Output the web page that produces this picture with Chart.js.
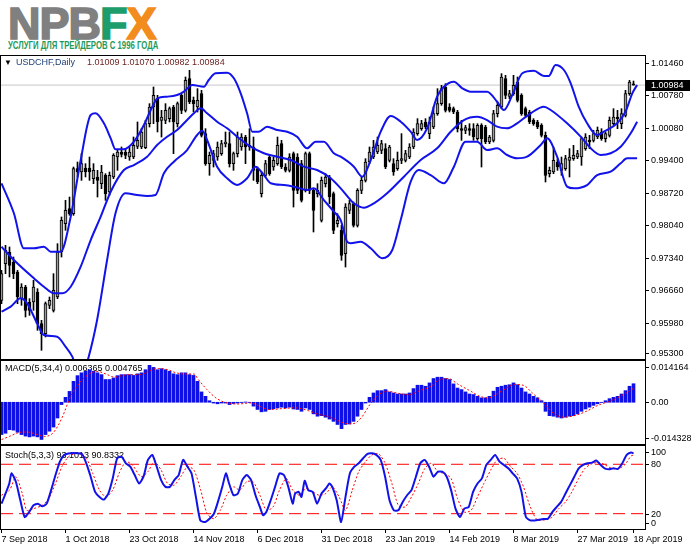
<!DOCTYPE html>
<html>
<head>
<meta charset="utf-8">
<title>USDCHF Daily</title>
<script src="https://cdn.jsdelivr.net/npm/chart.js@4.4.1/dist/chart.umd.min.js"></script>
<style>
  html, body { margin: 0; padding: 0; background: #fff; }
  body { position: relative; width: 691px; height: 549px; overflow: hidden; font-family: "Liberation Sans", Arial, sans-serif; }
  canvas { position: absolute; left: 0; }
  #logo { position: absolute; left: 8px; top: 2px; font-weight: bold; font-size: 45px; line-height: 44px; letter-spacing: -1px; white-space: nowrap; transform-origin: 0 0; }
  #logo span { -webkit-text-stroke: 1.6px currentColor; }
  #tagline { position: absolute; left: 8px; top: 40px; font-weight: bold; font-size: 10px; line-height: 11px; color: #1f9a5c; white-space: nowrap; transform-origin: 0 0; }
</style>
</head>
<body>
<div id="logo"><span style="color:#808080">NPB</span><span style="color:#1d9d6c">F</span><span style="color:#f28c1c">X</span></div>
<div id="tagline">УСЛУГИ ДЛЯ ТРЕЙДЕРОВ С 1996 ГОДА</div>
<canvas id="priceChart" width="691" height="305" style="top:55px"></canvas>
<canvas id="macdChart" width="691" height="85" style="top:360px"></canvas>
<canvas id="stochChart" width="691" height="104" style="top:445px"></canvas>
<script>
// USDCHF daily, 7 Sep 2018 .. 18 Apr 2019 (bar index 0..158)
const opens = [0.96449,0.97222,0.97468,0.97257,0.97046,0.96484,0.96730,0.96414,0.96414,0.96625,
  0.95958,0.95747,0.96344,0.96238,0.96519,0.97468,0.98064,0.98380,0.98275,0.99223,
  0.99153,0.99237,0.99237,0.99013,0.99048,0.98907,0.99083,0.98732,0.99048,0.99469,
  0.99574,0.99574,0.99469,0.99469,0.99694,0.99680,0.99666,1.00171,1.00523,1.00698,
  1.00242,1.00242,1.00277,1.00523,1.00171,1.00768,1.00452,1.01120,1.00663,1.00523,
  1.00803,0.99961,0.99329,0.99399,0.99469,0.99539,0.99750,0.99750,0.99329,0.99539,
  0.99680,0.99890,0.99715,0.99680,0.99223,0.98696,0.99083,0.99469,0.99258,0.99329,
  0.99750,0.99258,0.99188,0.99539,0.99469,0.99329,0.98767,0.99539,0.98767,0.98696,
  0.98134,0.98907,0.99048,0.98696,0.98064,0.97924,0.97432,0.98345,0.98486,0.98029,
  0.98767,0.98977,0.99364,0.99469,0.99574,0.99610,0.99645,0.99399,0.99329,0.99223,
  0.99399,0.99399,0.99469,0.99680,0.99961,1.00066,1.00207,0.99961,1.00101,1.00382,
  1.00593,1.00944,1.00523,1.00487,1.00417,1.00066,1.00031,1.00066,1.00066,0.99855,
  1.00136,1.00101,0.99785,0.99820,1.00382,1.00523,1.01120,1.00747,1.00803,1.01049,
  1.00768,1.00487,1.00417,1.00242,1.00207,1.00136,0.99926,0.99118,0.99153,0.99364,
  0.99188,0.99223,0.99399,0.99434,0.99469,0.99469,0.99645,0.99820,0.99820,0.99890,
  0.99996,0.99855,0.99926,1.00171,1.00312,1.00171,1.00347,1.00803,1.01009];
const highs = [0.97081,0.97608,0.97573,0.97362,0.97081,0.96800,0.96765,0.96484,0.96870,0.96695,
  0.96028,0.96414,0.96519,0.97011,0.97643,0.98205,0.98556,0.98626,0.99258,0.99364,
  0.99539,0.99329,0.99469,0.99329,0.99188,0.99293,0.99118,0.99153,0.99539,0.99610,
  0.99680,0.99645,0.99680,0.99890,1.00207,1.00066,1.00242,1.00593,1.00944,1.00768,
  1.00452,1.00593,1.00523,1.00558,1.00628,1.00803,1.01155,1.01295,1.00733,1.00909,
  1.00874,1.00066,0.99574,0.99610,0.99785,0.99820,0.99996,0.99996,0.99574,0.99996,
  0.99961,0.99926,1.00066,0.99890,0.99258,0.99153,0.99399,0.99504,0.99469,0.99890,
  0.99820,0.99329,0.99539,0.99574,0.99539,0.99399,0.99574,0.99574,0.98802,0.98907,
  0.99048,0.99118,0.99083,0.98732,0.98275,0.98029,0.98486,0.98556,0.98521,0.98802,
  0.99048,0.99434,0.99680,0.99820,0.99890,0.99820,0.99750,0.99715,0.99434,0.99574,
  0.99961,0.99610,0.99750,1.00066,1.00277,1.00242,1.00277,1.00312,1.00523,1.00909,
  1.00979,1.01014,1.00593,1.00523,1.00452,1.00242,1.00136,1.00171,1.00171,1.00171,
  1.00171,1.00136,0.99926,1.00452,1.00628,1.01225,1.01190,1.00874,1.01190,1.01155,
  1.00803,1.00523,1.00452,1.00277,1.00242,1.00171,0.99996,0.99258,0.99680,0.99434,
  0.99469,0.99504,0.99645,0.99715,0.99610,0.99890,0.99961,0.99926,1.00031,1.00101,
  1.00066,0.99996,1.00312,1.00487,1.00452,1.00487,1.00874,1.01084,1.01070];
const lows = [0.96379,0.97011,0.96941,0.96906,0.96379,0.96344,0.96098,0.96133,0.96238,0.95817,
  0.95396,0.95677,0.96274,0.96203,0.96484,0.97362,0.97924,0.98240,0.98240,0.99048,
  0.98977,0.99048,0.98977,0.98907,0.98626,0.98802,0.98556,0.98661,0.99013,0.99188,
  0.99469,0.99434,0.99399,0.99434,0.99645,0.99645,0.99645,1.00101,1.00171,0.99996,
  0.99890,1.00171,1.00207,0.99539,1.00101,1.00382,1.00417,1.00593,1.00417,1.00417,
  0.99890,0.99293,0.99083,0.99258,0.99399,0.99504,0.99680,0.99258,0.99188,0.99469,
  0.99610,0.99329,0.99610,0.98977,0.98907,0.98626,0.99048,0.99083,0.99188,0.99293,
  0.99223,0.99153,0.99153,0.98415,0.98696,0.98521,0.98732,0.98696,0.97889,0.98626,
  0.98099,0.98837,0.98486,0.97854,0.97994,0.97292,0.97151,0.98275,0.97994,0.97994,
  0.98696,0.98942,0.99329,0.99434,0.99539,0.99539,0.99223,0.99364,0.99083,0.99188,
  0.99329,0.99364,0.99434,0.99645,0.99926,1.00031,1.00066,0.99855,1.00066,1.00347,
  1.00558,1.00417,1.00417,1.00382,0.99996,0.99820,0.99961,0.99926,0.99820,0.99820,
  0.99258,0.99750,0.99750,0.99785,1.00312,1.00487,1.00698,1.00698,1.00768,1.00628,
  1.00347,1.00312,1.00171,1.00136,1.00066,0.99890,0.98942,0.99048,0.99118,0.99188,
  0.99083,0.99188,0.99048,0.99399,0.99434,0.99293,0.99610,0.99645,0.99785,0.99855,
  0.99820,0.99785,0.99890,1.00136,1.00066,1.00066,1.00312,1.00768,1.00982];
const closes = [0.97011,0.97503,0.97187,0.97011,0.96519,0.96730,0.96238,0.96238,0.96730,0.95958,
  0.95747,0.96379,0.96449,0.96660,0.97468,0.98134,0.98345,0.98275,0.99223,0.99153,
  0.99329,0.99153,0.99153,0.99188,0.98977,0.99153,0.98696,0.99083,0.99504,0.99574,
  0.99525,0.99504,0.99574,0.99715,0.99820,0.99996,1.00171,1.00523,1.00768,1.00207,
  1.00312,1.00452,1.00487,1.00207,1.00593,1.00452,1.01084,1.00628,1.00593,1.00663,
  0.99926,0.99329,0.99504,0.99539,0.99680,0.99750,0.99785,0.99329,0.99539,0.99890,
  0.99890,0.99680,0.99680,0.99188,0.98942,0.99083,0.99329,0.99118,0.99399,0.99715,
  0.99258,0.99188,0.99469,0.98767,0.98767,0.98556,0.99539,0.98767,0.98345,0.98767,
  0.98977,0.99048,0.98626,0.97924,0.98134,0.97397,0.98415,0.98486,0.98029,0.98767,
  0.98977,0.99364,0.99574,0.99680,0.99715,0.99750,0.99258,0.99680,0.99153,0.99399,
  0.99434,0.99539,0.99680,0.99996,1.00171,1.00171,1.00101,1.00207,1.00382,1.00593,
  1.00909,1.00452,1.00452,1.00417,1.00066,1.00031,1.00087,1.00031,0.99890,1.00136,
  0.99855,0.99785,0.99890,1.00382,1.00558,1.01155,1.00768,1.00803,1.00979,1.00663,
  1.00382,1.00347,1.00207,1.00171,1.00101,0.99926,0.99083,0.99188,0.99399,0.99258,
  0.99329,0.99434,0.99469,0.99504,0.99539,0.99855,0.99890,0.99785,0.99961,1.00031,
  0.99855,0.99961,1.00242,1.00312,1.00277,1.00382,1.00803,1.01049,1.00984];

// Bollinger bands as [bar index, price]
const bbUpper = [[0,0.98915],[3.1,0.98283],[5.6,0.97545],[8.1,0.97545],[10.6,0.97579],[12.3,0.97474],[14.8,0.97474],[17.3,0.98211],[19.8,0.99405],[22.3,1.00354],[23.5,1.00390],[25.6,1.00179],[27.3,0.99863],[28.5,0.99631],[30.6,0.99631],[33.1,0.99791],[35.6,1.00143],[37.7,1.00529],[39,1.00706],[41.4,1.00740],[43.9,1.00775],[45.6,1.00845],[47.7,1.00986],[50.6,1.00950],[51.8,1.01091],[53.5,1.01233],[56.4,1.01245],[58.1,1.01127],[59.8,1.00811],[61.4,1.00390],[62.7,1.00002],[64.3,1.00002],[66.4,1.00108],[68.9,1.00038],[71.4,1.00002],[73.9,0.99897],[76.4,0.99652],[78.5,0.99791],[80.6,0.99791],[83.1,0.99547],[84.8,0.99475],[88.1,0.99265],[90.2,0.99054],[92.3,0.99405],[94.8,1.00002],[97.3,1.00333],[99.8,1.00213],[102.3,1.00002],[103.9,0.99827],[106.4,1.00074],[108.9,1.00740],[110.6,1.00950],[113.1,1.01056],[115.2,1.00916],[117.3,1.00845],[121.4,1.00845],[123.9,1.00634],[125.6,1.00459],[127.7,1.00775],[130.2,1.01233],[133.1,1.01287],[135.6,1.01176],[136.8,1.01176],[138.5,1.01407],[140.6,1.01302],[142.3,1.01022],[144.3,1.00529],[146.4,1.00179],[148.9,0.99932],[150.6,1.00002],[153.9,1.00179],[156,1.00423],[157.7,1.00811],[158.9,1.00986]];
const bbMiddle = [[0,0.97579],[3.1,0.97298],[8.1,0.96913],[10.6,0.96736],[13.1,0.96597],[15.2,0.96597],[17.3,0.96736],[19.8,0.97158],[22.3,0.97720],[24.8,0.98211],[27.3,0.98738],[30.6,0.99195],[33.1,0.99300],[36.4,0.99475],[38.9,0.99722],[41.4,0.99897],[43.9,1.00038],[46.4,1.00248],[48.1,1.00390],[49.8,1.00495],[51.4,1.00390],[53.9,1.00213],[56.4,1.00074],[58.9,0.99897],[62.3,0.99686],[65.6,0.99547],[68.9,0.99475],[72.3,0.99405],[75.6,0.99265],[78.9,0.99195],[82.3,0.99020],[84.8,0.98809],[88.1,0.98493],[90.6,0.98401],[93.1,0.98493],[96.4,0.98704],[100.6,0.99054],[104.8,0.99405],[108.9,0.99652],[112.3,1.00002],[115.6,1.00248],[118.9,1.00318],[121.4,1.00248],[123.9,1.00108],[126.4,1.00074],[128.9,1.00179],[132.3,1.00390],[135.6,1.00529],[137.3,1.00459],[141.4,1.00179],[144.8,0.99897],[147.3,0.99652],[149.8,0.99511],[152.3,0.99547],[154.8,0.99686],[157.3,0.99968],[158.9,1.00213]];
const bbLower = [[0,0.96209],[2.3,0.96315],[4.8,0.96492],[6.4,0.96386],[8.9,0.95965],[10.6,0.95719],[13.9,0.95683],[16,0.95472],[17.7,0.95262],[18.8,0.95023],[20.8,0.95023],[21.8,0.95262],[23.9,0.96035],[26.4,0.97298],[28.5,0.98283],[31,0.98704],[33.9,0.98668],[36.4,0.98647],[38.5,0.98668],[40.6,0.99126],[43.1,0.99370],[46.4,0.99616],[48.9,0.99932],[50.2,1.00023],[51.4,0.99827],[53.9,0.99265],[56.4,0.99020],[58.9,0.98879],[61.4,0.99020],[63.5,0.99265],[65.6,0.99089],[67.3,0.98915],[70.6,0.98879],[73.1,0.98844],[76.4,0.98773],[78.1,0.98809],[80.6,0.98562],[83.1,0.98316],[84.8,0.98141],[86.4,0.97684],[87.3,0.97651],[89.8,0.97684],[92.3,0.97545],[95.2,0.97334],[97.7,0.97509],[99.8,0.98141],[102.3,0.98948],[104.3,0.99195],[107.3,0.99089],[110.6,0.98915],[113.1,0.99265],[116,0.99791],[118.9,0.99791],[121.4,0.99616],[123.9,0.99652],[126.4,0.99511],[128.9,0.99441],[131.4,0.99475],[134.8,0.99722],[136.4,0.99863],[138.9,0.99475],[141.4,0.98844],[143.1,0.98809],[146.4,0.98878],[148.9,0.99089],[152.3,0.99160],[154.8,0.99337],[156.4,0.99441],[158.9,0.99441]];

// MACD(5,34,4)
const macdHist = [-0.01109,-0.01064,-0.00940,-0.00958,-0.01029,-0.01109,-0.01162,-0.01189,-0.01162,-0.01189,
  -0.01277,-0.01109,-0.00993,-0.00852,-0.00541,-0.00080,0.00169,0.00373,0.00718,0.00914,
  0.01011,0.01064,0.01118,0.01064,0.01011,0.00949,0.00781,0.00781,0.00834,0.00914,
  0.00949,0.00949,0.00949,0.00922,0.00976,0.01011,0.01118,0.01268,0.01197,0.01118,
  0.01153,0.01118,0.01064,0.00976,0.00949,0.01011,0.01011,0.00949,0.00922,0.00718,
  0.00355,0.00204,0.00053,-0.00027,-0.00053,-0.00027,-0.00027,-0.00080,-0.00044,-0.00027,
  -0.00009,0.00009,-0.00009,-0.00133,-0.00248,-0.00328,-0.00310,-0.00248,-0.00222,-0.00195,
  -0.00169,-0.00195,-0.00169,-0.00231,-0.00248,-0.00310,-0.00195,-0.00248,-0.00399,-0.00479,
  -0.00461,-0.00514,-0.00577,-0.00656,-0.00763,-0.00905,-0.00763,-0.00745,-0.00656,-0.00479,
  -0.00248,-0.00027,0.00169,0.00319,0.00399,0.00399,0.00435,0.00355,0.00319,0.00284,
  0.00284,0.00284,0.00319,0.00470,0.00585,0.00585,0.00550,0.00665,0.00816,0.00860,
  0.00860,0.00816,0.00781,0.00630,0.00488,0.00435,0.00355,0.00284,0.00266,0.00204,
  0.00151,0.00151,0.00204,0.00381,0.00514,0.00550,0.00585,0.00603,0.00665,0.00603,
  0.00488,0.00355,0.00284,0.00204,0.00151,0.00053,-0.00310,-0.00461,-0.00479,-0.00514,
  -0.00541,-0.00514,-0.00479,-0.00461,-0.00399,-0.00310,-0.00231,-0.00169,-0.00106,-0.00053,
  -0.00009,0.00053,0.00124,0.00169,0.00204,0.00284,0.00399,0.00550,0.006365];
const macdSignal = [[0,-0.0128],[2,-0.0117],[4.1,-0.0105],[6.3,-0.0102],[8.5,-0.0109],[10.7,-0.0117],[12.9,-0.0105],[15.1,-0.0054],[17.3,0.0021],[19.5,0.0066],[21.7,0.0095],[23.9,0.0106],[26.1,0.0097],[28.3,0.0086],[30.5,0.0093],[32.7,0.0095],[34.9,0.0095],[37.1,0.0109],[39.3,0.0116],[41.5,0.0112],[43.7,0.0101],[45.9,0.0097],[48.1,0.0097],[49.2,0.0078],[51.4,0.0043],[53.6,0.0015],[55.8,0],[59.1,-0.0006],[62.4,-0.0002],[64.6,-0.0014],[66.8,-0.0025],[70.1,-0.0022],[73.4,-0.0019],[76.7,-0.0029],[78.9,-0.0040],[82.2,-0.0051],[85.5,-0.0071],[87.7,-0.0074],[89.9,-0.0054],[92.1,-0.0008],[94.3,0.0026],[96.5,0.0038],[98.7,0.0032],[102,0.0026],[104.2,0.0038],[107.4,0.0055],[109.6,0.0078],[111.8,0.0081],[114,0.0063],[117.3,0.0038],[119.5,0.0021],[121.7,0.0015],[125,0.0038],[128.3,0.0061],[130.5,0.0058],[132.7,0.0032],[135.5,-0.0002],[138.2,-0.0040],[140.4,-0.0051],[142.6,-0.0048],[145.9,-0.0033],[149.2,-0.0010],[152.5,0.0006],[155.8,0.0029],[158,0.004765]];

// Stochastic(5,3,3)
const stochMain = [[0,32.2],[0.85,42.4],[1.95,56.7],[2.5,69],[3.6,58.8],[4.7,36.3],[5.8,15.9],[6.9,22],[8,30.2],[9.1,32.2],[10.2,29],[11.3,32.2],[12.4,48.6],[13.5,66.9],[14.6,83.2],[15.7,91.4],[17.3,93.4],[19,93.4],[20.1,92.6],[21.2,81.2],[22.3,64.9],[23.4,46.5],[24.5,40.4],[25.6,37.1],[26.7,44.5],[27.8,62.8],[28.9,87.3],[30,89.4],[31.1,81.2],[32.2,77.1],[33.3,66.9],[34.4,56.7],[35.5,64.9],[36.6,85.3],[37.7,91.4],[38.8,77.1],[39.9,60.8],[41,52.6],[42.1,52.6],[43.2,60.8],[44.3,66.9],[45.4,85.3],[46.5,77.1],[47.5,69],[48.6,40.4],[49.7,11.8],[50.9,9.8],[52,13.9],[53.1,20],[54.1,34.3],[55.2,52.6],[56.1,69],[56.9,56.7],[58,42.4],[59.1,44.5],[60.2,60.8],[61.3,66.9],[62.4,60.8],[63.5,42.4],[64.6,28.2],[65.4,18],[66.2,22],[67.3,36.3],[68.4,52.6],[69.5,69],[70.6,66.9],[71.7,52.6],[72.8,32.2],[73.4,44.5],[74.3,46.5],[75,40.4],[75.8,60],[76.7,48.6],[77.8,46.5],[78.9,32.2],[80,44.5],[81.1,50.6],[82,56.7],[82.7,52.6],[83.8,36.3],[84.9,9.8],[86,40.4],[87.1,69],[88.2,77.1],[89.3,81.2],[90.4,87.3],[91.5,92.6],[92.6,93.4],[93.7,91.4],[94.8,85.3],[95.9,64.9],[97,36.3],[98.1,24.1],[99.2,24.1],[100.3,34.3],[101.4,42.4],[102.5,48.6],[103.6,64.9],[104.7,81.2],[105.8,85.3],[106.9,77.1],[108,64.9],[109.1,71],[110.2,71],[111.3,64.9],[112.4,48.6],[113.5,26.1],[114.6,15.9],[115.7,26.1],[116.8,28.2],[117.9,46.5],[119,56.7],[120.1,62.8],[121.2,79.2],[122.3,85.3],[123.4,91.4],[124.5,83.2],[125.6,79.2],[126.7,75.1],[127.8,69],[128.9,62.8],[130,46.5],[131.1,15.9],[132.2,11.8],[133.3,11.8],[134.4,12.7],[135.5,13.5],[136.6,13.9],[137.7,22],[138.8,28.2],[139.9,34.3],[141,44.5],[142.1,54.7],[143.2,64.9],[144.3,75.1],[145.4,79.2],[146.5,81.2],[147.6,82],[148.7,84.5],[149.8,79.2],[150.8,75.1],[151.9,73.9],[153,75.1],[154.1,74.3],[155.2,81.2],[156.3,91.4],[157.4,94.3],[158,93.1013]];
const stochSignal = [[0,42.4],[2,48.6],[3.6,64.9],[5.2,44.5],[6.3,24.1],[8,26.1],[10.2,30.2],[11.8,38.4],[13.5,56.7],[15.1,77.1],[16.8,89.4],[19,93.4],[21.2,87.3],[22.8,69],[24.5,48.6],[26.1,40.4],[27.8,48.6],[29.4,69],[31.1,83.2],[32.7,79.2],[34.9,64.9],[36.6,71],[38.2,83.2],[39.9,73],[41.5,56.7],[43.2,54.7],[44.8,64.9],[46.5,77.1],[48.1,73],[49.8,48.6],[51.4,20],[53.1,13.9],[54.7,24.1],[56.3,42.4],[58,52.6],[59.6,48.6],[61.3,58.8],[62.9,58.8],[64.6,42.4],[66.2,24.1],[67.9,28.2],[69.5,48.6],[71.2,62.8],[72.8,48.6],[74.5,42.4],[76.1,50.6],[77.8,46.5],[79.4,42.4],[81.1,44.5],[82.7,52.6],[84.4,40.4],[86,24.1],[87.7,48.6],[89.3,71],[91,83.2],[92.6,91.4],[94.3,92.6],[95.9,81.2],[97.6,56.7],[99.2,30.2],[100.9,28.2],[102.5,40.4],[104.2,56.7],[105.8,74.7],[107.4,81.2],[109.1,71],[110.7,69],[112.4,62.8],[114,38.4],[115.7,22],[117.4,24.1],[119,40.4],[120.6,56.7],[122.3,73],[123.9,85.3],[125.6,87.3],[127.3,77.1],[128.9,69],[130.5,52.6],[132.2,28.2],[133.9,12.7],[136.1,12.7],[137.7,15.9],[139.3,26.1],[141,34.3],[142.6,46.5],[144.3,62.8],[145.9,75.1],[147.6,80.6],[149.3,82.4],[150.9,79.2],[152.5,75.1],[154.1,74.3],[155.8,79.2],[157.4,90.2],[158,90.8332]];
const stochLevels = [80, 20];

// axis labels
const priceTicks = [1.01460, 1.00780, 1.00080, 0.99400, 0.98720, 0.98040, 0.97340, 0.96660, 0.95980, 0.95300];
const macdTicks = [0.014164, 0, -0.014328];
const macdTickLabels = ['0.014164', '0.00', '-0.014328'];
const stochTicks = [100, 80, 20, 0];
const dateTickIndex = [0, 16, 32, 48, 64, 80, 96, 112, 128, 144, 158];
const dateTickLabels = ['7 Sep 2018', '1 Oct 2018', '23 Oct 2018', '14 Nov 2018', '6 Dec 2018', '31 Dec 2018',
  '23 Jan 2019', '14 Feb 2019', '8 Mar 2019', '27 Mar 2019', '18 Apr 2019'];

const FONT = '"Liberation Sans", Arial, sans-serif';
Chart.defaults.font.family = FONT;
Chart.defaults.font.size = 9;

const X_MIN = -0.125, X_MAX = 160.875;
const lastClose = closes[closes.length - 1];
const toXY = pts => pts.map(p => ({ x: p[0], y: p[1] }));
const hline = v => [{ x: X_MIN, y: v }, { x: X_MAX, y: v }];

// frame, right-hand price labels (kept inside the panel like the terminal does), value tag
const sideAxis = {
  id: 'sideAxis',
  beforeDatasetsDraw(chart, args, opts) {
    const ctx = chart.ctx;
    ctx.save();
    ctx.textBaseline = 'middle';
    (opts.captions || []).forEach(c => {
      ctx.font = (c.size || 9) + 'px ' + FONT;
      ctx.fillStyle = c.color;
      ctx.fillText(c.text, c.x, opts.captionY);
    });
    ctx.restore();
  },
  afterDraw(chart, args, opts) {
    const { ctx, chartArea: a } = chart;
    const y = chart.scales.y;
    ctx.save();
    ctx.strokeStyle = '#000';
    ctx.lineWidth = 1;
    ctx.strokeRect(a.left - 0.5, a.top - 0.5, a.right - a.left + 1, a.bottom - a.top + 1);
    ctx.font = '9px ' + FONT;
    ctx.fillStyle = '#000';
    ctx.textBaseline = 'middle';
    opts.values.forEach((v, i) => {
      let py = Math.round(y.getPixelForValue(v));
      py = Math.max(a.top + 6, Math.min(a.bottom - 6, py));
      ctx.beginPath();
      ctx.moveTo(a.right + 1, py + 0.5);
      ctx.lineTo(a.right + 4, py + 0.5);
      ctx.stroke();
      ctx.fillText(opts.labels[i], a.right + 6, py + 0.5);
    });
    if (opts.tag !== undefined) {
      const py = Math.round(y.getPixelForValue(opts.tag));
      ctx.fillStyle = '#000';
      ctx.fillRect(a.right + 1, py - 5, chart.width - a.right - 2, 11);
      ctx.fillStyle = '#fff';
      ctx.fillText(opts.tag.toFixed(5), a.right + 6, py + 0.5);
    }
    ctx.restore();
  }
};

function panelOptions(yMin, yMax, axis, xAxis) {
  return {
    responsive: false,
    animation: false,
    events: [],
    layout: { padding: { left: 1, right: 46, top: 1, bottom: xAxis ? 0 : 1 } },
    scales: {
      x: xAxis || { type: 'linear', min: X_MIN, max: X_MAX, offset: false, display: false },
      y: { min: yMin, max: yMax, display: false }
    },
    plugins: { legend: { display: false }, tooltip: { enabled: false }, sideAxis: axis }
  };
}

function band(points) {
  return { type: 'line', data: toXY(points), borderColor: 'rgb(18,18,235)', borderWidth: 2,
    pointRadius: 0, cubicInterpolationMode: 'monotone', fill: false, order: 1 };
}

// price panel
new Chart(document.getElementById('priceChart'), {
  type: 'bar',
  data: {
    datasets: [
      { type: 'line', data: hline(lastClose), borderColor: '#c8c8c8', borderWidth: 1, pointRadius: 0, order: 5 },
      { data: lows.map((l, i) => ({ x: i, y: [l, highs[i]] })), backgroundColor: '#000',
        barThickness: 1, grouped: false, order: 4 },
      { data: opens.map((o, i) => ({ x: i, y: [o, closes[i]] })),
        backgroundColor: opens.map((o, i) => closes[i] >= o ? '#9a9a9a' : '#000000'),
        borderColor: '#000', borderWidth: 1, borderSkipped: false, barThickness: 3,
        minBarLength: 1, grouped: false, order: 3 },
      band(bbUpper), band(bbMiddle), band(bbLower)
    ]
  },
  options: panelOptions(0.95213, 1.01597, {
    values: priceTicks, labels: priceTicks.map(v => v.toFixed(5)), tag: lastClose, captionY: 8,
    captions: [
      { text: '\u25BC', x: 4, color: '#000', size: 8 },
      { text: 'USDCHF,Daily', x: 16, color: '#1d3f78' },
      { text: [opens, highs, lows, closes].map(a => a[a.length - 1].toFixed(5)).join(' '), x: 87, color: '#6a1c1c' }
    ]
  }),
  plugins: [sideAxis]
});

// MACD panel
new Chart(document.getElementById('macdChart'), {
  type: 'bar',
  data: {
    datasets: [
      { data: macdHist.map((v, i) => ({ x: i, y: v })), backgroundColor: 'rgb(15,15,232)',
        barThickness: 3, grouped: false, order: 2 },
      { type: 'line', data: toXY(macdSignal), borderColor: '#ff0000', borderWidth: 1, borderDash: [2, 2],
        pointRadius: 0, cubicInterpolationMode: 'monotone', order: 1 }
    ]
  },
  options: panelOptions(-0.014328, 0.014164, {
    values: macdTicks, labels: macdTickLabels, captionY: 9,
    captions: [{ text: 'MACD(5,34,4) ' + macdHist[macdHist.length - 1].toFixed(6) + ' ' +
      macdSignal[macdSignal.length - 1][1].toFixed(6), x: 5, color: '#000' }]
  }),
  plugins: [sideAxis]
});

// Stochastic panel with the date axis
new Chart(document.getElementById('stochChart'), {
  type: 'line',
  data: {
    datasets: [
      ...stochLevels.map(v => ({ data: hline(v), borderColor: '#ff0000', borderWidth: 1,
        borderDash: [12, 6], pointRadius: 0, order: 3 })),
      { data: toXY(stochSignal), borderColor: '#ff0000', borderWidth: 1, borderDash: [2, 2],
        pointRadius: 0, tension: 0.25, order: 2 },
      { data: toXY(stochMain), borderColor: 'rgb(18,18,232)', borderWidth: 2,
        pointRadius: 0, tension: 0.2, order: 1 }
    ]
  },
  options: panelOptions(1.4, 102.2, {
    values: stochTicks, labels: stochTicks.map(String), captionY: 11,
    captions: [{ text: 'Stoch(5,3,3) ' + stochMain[stochMain.length - 1][1].toFixed(4) + ' ' +
      stochSignal[stochSignal.length - 1][1].toFixed(4), x: 5, color: '#000' }]
  }, {
    type: 'linear', min: X_MIN, max: X_MAX, offset: false, position: 'bottom',
    afterBuildTicks: s => { s.ticks = dateTickIndex.map(v => ({ value: v })); },
    afterFit: s => { s.height = 20; },
    ticks: { callback: (v, i) => dateTickLabels[i], autoSkip: false, maxRotation: 0, minRotation: 0,
      align: 'start', padding: 1, color: '#000', font: { size: 9 } },
    grid: { drawOnChartArea: false, drawTicks: true, tickLength: 4, color: '#000' },
    border: { display: false }
  }),
  plugins: [sideAxis]
});

// squeeze the logo lines to the width of the original artwork
const fit = (id, w) => { const el = document.getElementById(id); el.style.transform = 'scaleX(' + (w / el.offsetWidth) + ')'; };
fit('logo', 148);
fit('tagline', 150);
</script>
</body>
</html>
